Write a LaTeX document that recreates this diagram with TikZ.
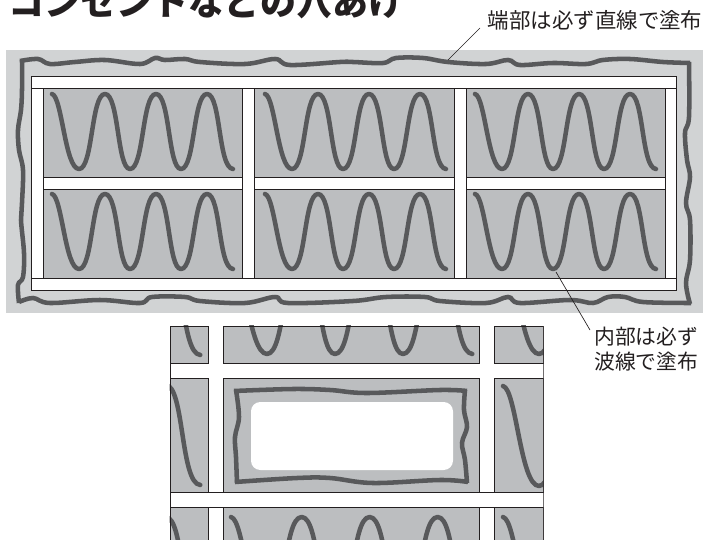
\documentclass[tikz,border=0pt]{standalone}
\usepackage{fontspec}
\newfontfamily\cjk{Noto Sans CJK JP}
\definecolor{pale}{HTML}{D1D3D4}
\definecolor{mid}{HTML}{BCBEC0}
\definecolor{ink}{HTML}{58595B}
\definecolor{rule}{HTML}{231F20}
\tikzset{
  panel/.style={fill=mid,draw=rule,line width=0.75pt},
  barbox/.style={fill=white,draw=rule,line width=0.75pt},
  thick wave/.style={draw=ink,line width=3.4pt,line cap=round,line join=round},
  rough/.style={draw=ink,line width=3.4pt,line join=miter},
  leader/.style={draw=rule,line width=0.5pt},
  label text/.style={font=\cjk\fontsize{15.6pt}{18.75pt}\selectfont,inner sep=0pt,text=rule},
}
% one wave starting at #1,#2 with scale #3
\newcommand{\onewave}[3]{%
  \draw[thick wave,shift={(#1,#2)},scale=#3]
    (0,0) .. controls (10,2) and (13,75) .. (27,75)
    .. controls (41,75) and (39,0) .. (53,0)
    .. controls (67,0) and (65,75) .. (78,75)
    .. controls (92,75) and (90,0) .. (104,0)
    .. controls (118,0) and (116,75) .. (129,75)
    .. controls (143,75) and (141,0) .. (155,0)
    .. controls (169,0) and (166,74) .. (181,75);}
\begin{document}
\begin{tikzpicture}[x=0.75pt,y=-0.75pt]
\useasboundingbox (0,0) rectangle (706,539);
\clip (0,0) rectangle (706,539);
% title
\node[anchor=west,inner sep=0pt,font=\cjk\bfseries\fontsize{27pt}{30pt}\selectfont,text=rule] (title) at (8,2) {コンセントなどの穴あけ};
% upper sheet
\fill[pale] (6,50) rectangle (703,313);
\draw[barbox] (31,76.5) rectangle (676,290);
\draw[draw=rule,line width=0.75pt] (31,88) -- (676,88) (31,278) -- (676,278);
\foreach \xa/\xb in {43/242,254/454,466/665}{
  \foreach \ya/\yb in {88/177,189/278}{
    \draw[panel] (\xa,\ya) rectangle (\xb,\yb);
  }
  \draw[barbox] (\xa,177) rectangle (\xb,189);
}
\foreach \dx in {52,265,475}{
  \foreach \yy in {94,194}{
    \onewave{\dx}{\yy}{1}
  }
}
% rough border, upper
\draw[rough] plot[smooth,tension=.6] coordinates {(20,61) (38,59) (50,64) (75,62) (105,60) (140,64) (155,58) (165,60) (185,59) (200,62) (245,64) (275,59) (290,65) (340,62) (353,62) (383,63) (396,58) (423,58) (448,62) (486,64) (508,60) (520,65) (553,63) (586,64) (603,60) (630,59) (663,62) (690,63)};
\draw[rough] plot[smooth,tension=.6] coordinates {(689,62) (689,117) (685,133) (687,160) (690,177) (686,203) (690,220) (690,260) (686,283) (690,304)};
\draw[rough] plot[smooth,tension=.6] coordinates {(691,303) (643,302) (625,297) (608,297) (593,303) (570,300) (520,303) (508,297) (486,303) (440,301) (425,297) (386,297) (353,301) (288,303) (275,297) (245,303) (200,301) (185,297) (152,297) (140,303) (100,300) (50,303) (33,298) (19,302)};
\draw[rough] plot[smooth,tension=.6] coordinates {(19,303) (18,285) (23,277) (24,253) (21,220) (22,203) (23,170) (19,150) (18,130) (21,110) (22,90) (22,60)};
% lower sheet
\begin{scope}
\clip (169.5,325.5) rectangle (543.5,539);
\fill[white] (170,326) rectangle (543,545);
\foreach \xa/\xb in {170/208.5,223/479,494/543}{
  \foreach \ya/\yb in {326/363,378/492,507/560}{
    \draw[panel] (\xa,\ya) rectangle (\xb,\yb);
  }
}
\foreach \sx/\sy in {-41/255,231/254,503/254,-41/385,503/386,-41/517,231/517,503/517}{
  \onewave{\sx}{\sy}{1.333}
}
\foreach \xa/\xb in {170/208.5,223/479,494/543}{
  \foreach \ya/\yb in {326/363,378/492,507/560}{
    \draw[rule,line width=0.75pt] (\xa,\ya) rectangle (\xb,\yb);
  }
}
\draw[rule,line width=0.75pt] (208.5,492) -- (223,492) (208.5,507) -- (223,507) (479,492) -- (494,492) (479,507) -- (494,507)
  (170,363) -- (170,378) (170,492) -- (170,507) (543,363) -- (543,378) (543,492) -- (543,507);
\end{scope}
\fill[white,rounded corners=7pt] (251,402) rectangle (453,470);
\draw[rough] plot[smooth,tension=.6] coordinates {(234,391) (293,389) (330,390) (367,393) (440,390) (467,391)};
\draw[rough] plot[smooth,tension=.6] coordinates {(465,390) (464,410) (467,427) (462,443) (465,460) (467,483)};
\draw[rough] plot[smooth,tension=.6] coordinates {(468,482) (440,480) (373,483) (330,478) (297,478) (235,482)};
\draw[rough] plot[smooth,tension=.6] coordinates {(237,483) (236,457) (235,437) (239,417) (236,390)};
% labels
\node[label text,font=\cjk\fontsize{16.1pt}{18.75pt}\selectfont,anchor=west] (edge) at (487.5,20) {端部は必ず直線で塗布};
\node[label text,anchor=west] (inner1) at (594,337) {内部は必ず};
\node[label text,anchor=west] (inner2) at (594,362) {波線で塗布};
\coordinate (edgefrom) at (480,28);
\coordinate (edgeto) at (448,60);
\coordinate (innerfrom) at (590,330);
\coordinate (innerto) at (556,272);
\draw[leader] (edgefrom) -- (edgeto);
\draw[leader] (innerfrom) -- (innerto);
\end{tikzpicture}
\end{document}
